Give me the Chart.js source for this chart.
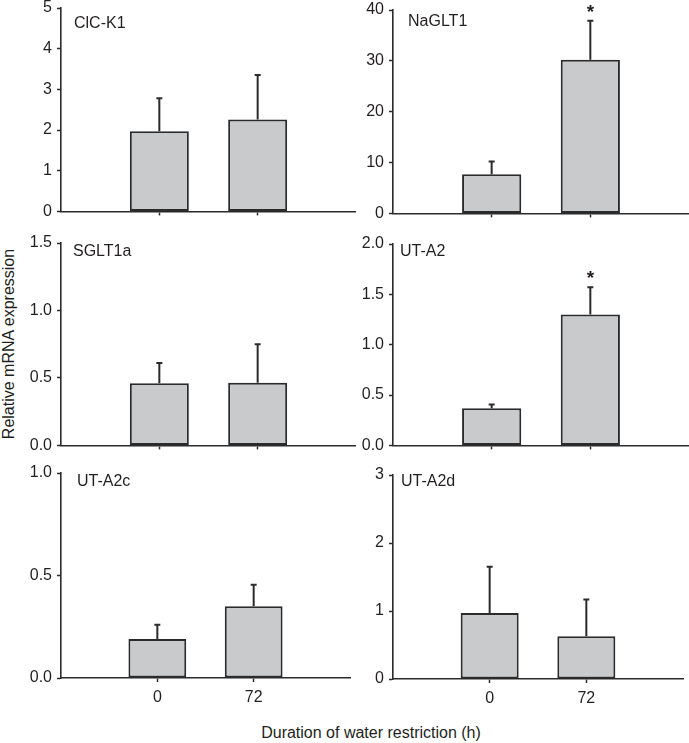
<!DOCTYPE html>
<html>
<head>
<meta charset="utf-8">
<title>Relative mRNA expression</title>
<script src="https://cdn.jsdelivr.net/npm/chart.js@4.4.0/dist/chart.umd.min.js"></script>
<style>
  body { margin: 0; background: #fff; }
  #wrap { position: relative; width: 689px; height: 743px; overflow: hidden; font-family: "Liberation Sans", Arial, sans-serif; color: #231f20; }
  canvas { position: absolute; }
  .lbl { position: absolute; font-size: 16px; line-height: 18px; white-space: nowrap; text-align: center; }
  #ylab { width: 300px; left: -141px; top: 335px; transform: rotate(-90deg); }
  #xlab { width: 400px; left: 171px; top: 724px; }
</style>
</head>
<body>
<div id="wrap">
  <div class="lbl" id="ylab">Relative mRNA expression</div>
  <div class="lbl" id="xlab">Duration of water restriction (h)</div>
</div>
<script>
// data
let hours = ['0', '72'];
let genes = ['ClC-K1', 'NaGLT1', 'SGLT1a', 'UT-A2', 'UT-A2c', 'UT-A2d'];
let means = [[1.97, 2.26], [7.7, 30.2], [0.46, 0.465], [0.37, 1.30], [0.19, 0.35], [0.97, 0.63]];
let errs = [[0.81, 1.09], [2.5, 7.7], [0.15, 0.285], [0.035, 0.27], [0.07, 0.105], [0.68, 0.54]];
let stars = [[false, false], [false, true], [false, false], [false, true], [false, false], [false, false]];
let yTicks = [
  ['0', '1', '2', '3', '4', '5'],
  ['0', '10', '20', '30', '40'],
  ['0.0', '0.5', '1.0', '1.5'],
  ['0.0', '0.5', '1.0', '1.5', '2.0'],
  ['0.0', '0.5', '1.0'],
  ['0', '1', '2', '3']
];

// panel placement (chart area top/bottom, title offset)
let cols = [{ x: 0, w: 356 }, { x: 332, w: 357 }];
let areas = [
  { top: 8, bottom: 214, tx: 13, ty: 16 },
  { top: 10, bottom: 216, tx: 15, ty: 12 },
  { top: 243, bottom: 448, tx: 12, ty: 9 },
  { top: 244, bottom: 448, tx: 7, ty: 8 },
  { top: 473, bottom: 678, tx: 16, ty: 9 },
  { top: 475, bottom: 679, tx: 8, ty: 7 }
];

let ink = '#2b2b2b';
let txt = '#231f20';
let fontFam = '"Liberation Sans", Arial, sans-serif';
let wrap = document.getElementById('wrap');

function makePanel(k) {
  let col = cols[k % 2];
  let row = Math.floor(k / 2);
  let a = areas[k];
  let padTop = 20;
  let xh = row === 2 ? 32 : 12;
  let cv = document.createElement('canvas');
  let h = a.bottom - a.top + padTop + xh;
  cv.width = col.w;
  cv.height = h;
  cv.style.left = col.x + 'px';
  cv.style.top = (a.top - padTop) + 'px';
  wrap.appendChild(cv);

  let extras = {
    id: 'extras',
    afterDatasetsDraw(chart) {
      let c = chart.ctx, xs = chart.scales.x, ys = chart.scales.y;
      c.save();
      c.strokeStyle = ink;
      c.lineWidth = 2;
      means[k].forEach((m, i) => {
        let x = xs.getPixelForValue(i + 1);
        let y0 = ys.getPixelForValue(m);
        let y1 = ys.getPixelForValue(m + errs[k][i]);
        c.beginPath();
        c.moveTo(x, y0);
        c.lineTo(x, y1);
        c.moveTo(x - 3, y1);
        c.lineTo(x + 3, y1);
        c.stroke();
        if (stars[k][i]) {
          c.fillStyle = txt;
          c.font = 'bold 19px ' + fontFam;
          c.textAlign = 'center';
          c.textBaseline = 'alphabetic';
          c.fillText('*', x, y1 - 3);
        }
      });
      c.fillStyle = txt;
      c.font = '16px ' + fontFam;
      c.textAlign = 'left';
      c.textBaseline = 'middle';
      c.fillText(genes[k], chart.chartArea.left + a.tx, chart.chartArea.top + a.ty);
      c.restore();
    }
  };

  new Chart(cv, {
    type: 'bar',
    data: {
      labels: ['', ...hours, ''],
      datasets: [{
        data: [null, ...means[k], null],
        backgroundColor: '#c9cacc',
        borderColor: ink,
        borderWidth: 2,
        borderSkipped: false,
        barPercentage: 1,
        categoryPercentage: 0.6
      }]
    },
    options: {
      responsive: false,
      animation: false,
      layout: { padding: { top: padTop, left: 0, right: 0, bottom: 0 } },
      plugins: { legend: { display: false }, tooltip: { enabled: false } },
      scales: {
        x: {
          offset: false,
          grid: {
            offset: false,
            drawOnChartArea: false,
            tickLength: 4,
            tickWidth: 1.5,
            tickColor: ctx => (ctx.index === 0 || ctx.index === 3) ? 'rgba(0,0,0,0)' : ink
          },
          border: { color: ink, width: 1.6 },
          ticks: {
            display: row === 2,
            autoSkip: false,
            maxRotation: 0,
            padding: 6,
            color: txt,
            font: { family: fontFam, size: 16 }
          },
          afterFit: s => { s.height = xh; }
        },
        y: {
          min: 0,
          max: parseFloat(yTicks[k][yTicks[k].length - 1]),
          grid: { drawOnChartArea: false, tickLength: 4, tickWidth: 1.5, tickColor: ink },
          border: { color: ink, width: 1.6 },
          ticks: {
            padding: 5,
            color: txt,
            font: { family: fontFam, size: 16 },
            callback: (v, i) => yTicks[k][i]
          },
          afterBuildTicks: s => { s.ticks = yTicks[k].map(t => ({ value: parseFloat(t) })); },
          afterFit: s => { s.width = 61; }
        }
      }
    },
    plugins: [extras]
  });
}

for (let k = 0; k < genes.length; k++) makePanel(k);
</script>
</body>
</html>
